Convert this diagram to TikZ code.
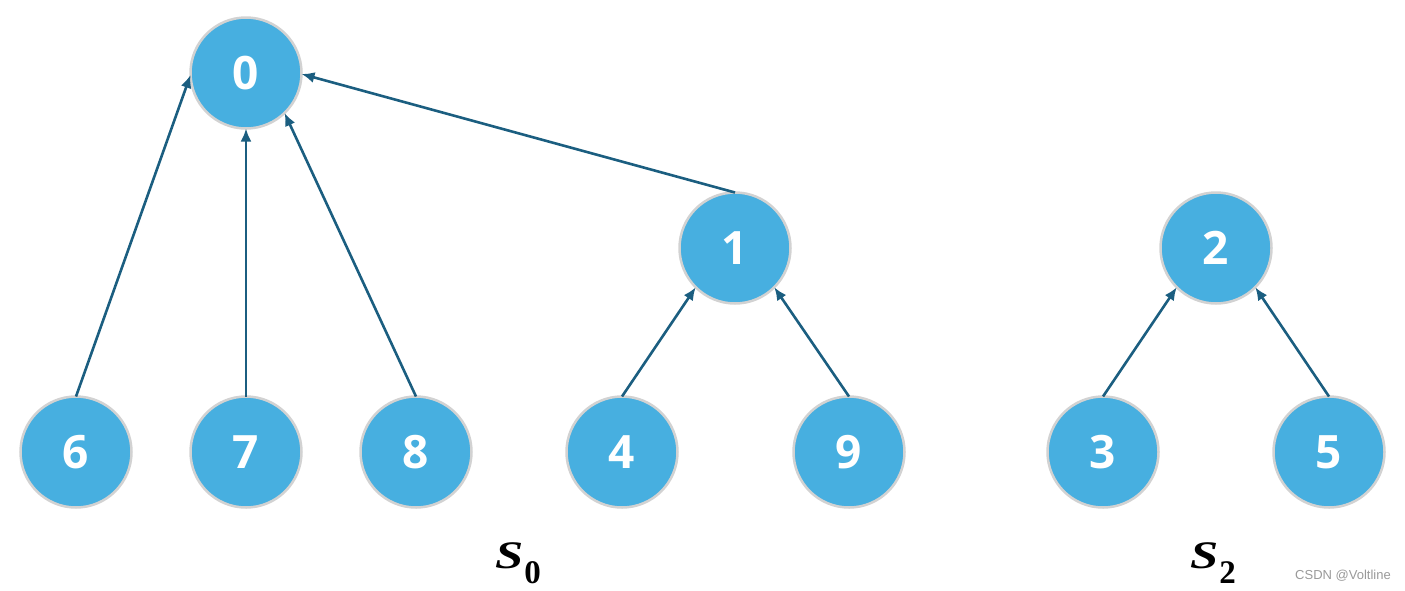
\documentclass[tikz,border=0pt]{standalone}
\usepackage{fontspec}
\setmainfont{Liberation Serif}
\newfontfamily\digitfont{Open Sans}
\newfontfamily\wmfont{Liberation Sans}
\usetikzlibrary{arrows.meta}
\definecolor{nodefill}{HTML}{47AFE0}
\definecolor{nodeborder}{HTML}{D2D2D2}
\definecolor{edgecol}{HTML}{1B5E80}
\newcommand{\setname}[1]{\scalebox{1.3}[1]{\bfseries\itshape\fontsize{39}{39}\selectfont S}\kern1pt\raisebox{-15pt}{\bfseries\fontsize{33}{33}\selectfont #1}}
\tikzset{
  vert/.style={circle, fill=nodefill, draw=nodeborder, line width=2.5pt,
    minimum size=111pt, inner sep=0pt, outer sep=0pt, text=white,
    font=\digitfont\bfseries\fontsize{46}{46}\selectfont},
  link/.style={draw=edgecol, line width=2.6pt, -{Latex[length=13pt,width=11pt]}},
  setlabel/.style={anchor=base west, inner sep=0pt},
}
\begin{document}
\begin{tikzpicture}[x=1pt,y=-1pt]
\useasboundingbox (0,0) rectangle (1405,590);
\node[vert] (n0) at (246,73) {0};
\node[vert] (n1) at (735,248) {1};
\node[vert] (n2) at (1216,248) {2};
\node[vert] (n6) at (76,452) {6};
\node[vert] (n7) at (246,452) {7};
\node[vert] (n8) at (416,452) {8};
\node[vert] (n4) at (622,452) {4};
\node[vert] (n9) at (849,452) {9};
\node[vert] (n3) at (1103,452) {3};
\node[vert] (n5) at (1329,452) {5};
\draw[link] (n6.north) -- (n0.182);
\draw[link] (n7.north) -- (n0.south);
\draw[link] (n8.north) -- (n0.-46);
\draw[link] (n1.north) -- (n0.-1);
\draw[link] (n4.north) -- (n1.-135);
\draw[link] (n9.north) -- (n1.-45);
\draw[link] (n3.north) -- (n2.-135);
\draw[link] (n5.north) -- (n2.-45);
\node[setlabel] (s0) at (495,568) {\setname{0}};
\node[setlabel] (s2) at (1190,568) {\setname{2}};
\node[font=\wmfont\fontsize{13}{13}\selectfont, text=gray!80] (wm) at (1343,576) {CSDN @Voltline};
\end{tikzpicture}
\end{document}
